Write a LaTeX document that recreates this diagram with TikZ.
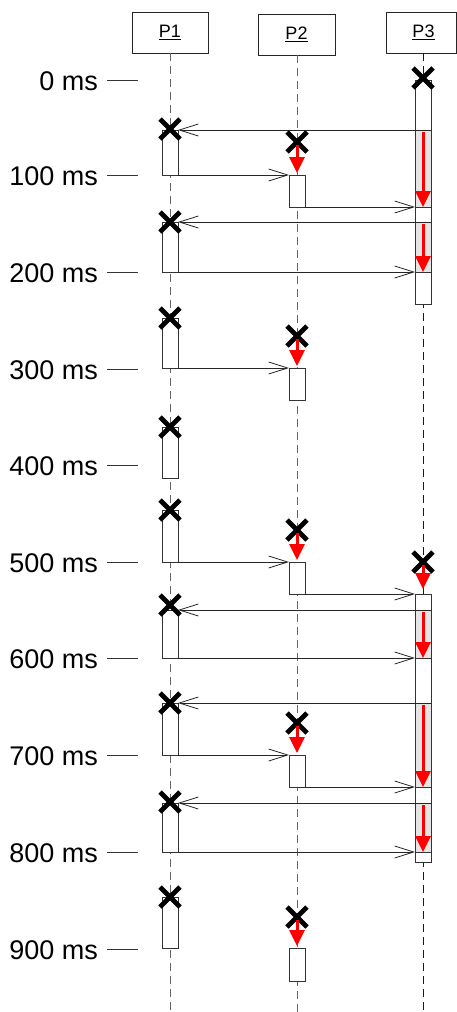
\documentclass[tikz,border=0pt]{standalone}
\usepackage{fontspec}
\setmainfont{Liberation Sans}
\usetikzlibrary{arrows.meta,shapes.misc}
\begin{document}
\begin{tikzpicture}[x=1pt,y=-1pt,
  head/.style={draw=black!85, line width=0.9pt, minimum width=76pt, minimum height=41pt,
    inner sep=0pt, outer sep=0pt, font=\fontsize{18}{20}\selectfont},
  life/.style={draw=black!60, line width=0.9pt, dash pattern=on 8pt off 5pt},
  act/.style={draw=black!80, fill=white, line width=0.9pt, minimum width=16pt,
    inner sep=0pt, outer sep=0pt, anchor=north},
  busy/.style={act, fill=black!10},
  msg/.style={draw=black!85, line width=0.8pt,
    -{Straight Barb[length=19pt,width=12pt,line width=0.8pt]}},
  kill/.style={cross out, draw=black, line width=4.7pt, minimum size=20pt,
    inner sep=0pt, outer sep=0pt},
  work/.style={draw=red, line width=3pt, -{Triangle[length=16pt,width=15pt]}},
  tickline/.style={draw=black!80, line width=0.8pt},
  tlabel/.style={font=\fontsize{27}{31}\selectfont, anchor=base east, inner sep=0pt}
]
\useasboundingbox (0,0) rectangle (457,1012);
\fill[white] (0,0) rectangle (457,1012);

% time axis
\foreach \lab/\y [count=\i] in {0 ms/80,100 ms/175,200 ms/272,300 ms/369,400 ms/465,
    500 ms/562,600 ms/658,700 ms/755,800 ms/852,900 ms/949}{
  \node[tlabel] (t\i) at (98,\y+10.5) {\lab};
  \coordinate (ta\i) at (107,\y);
  \coordinate (tb\i) at (138,\y);
  \draw[tickline] (ta\i) -- (tb\i);
}

% participants
\node[head] (h1) at (170,32.5) {\underline{P1}};
\node[head, minimum width=77pt] (h2) at (296.5,34.5) {\underline{P2}};
\node[head, minimum width=70pt] (h3) at (421,32.5) {\hspace{5pt}\underline{P3}};

% lifelines
\coordinate (e1) at (170,1012);
\coordinate (e2) at (297,1012);
\coordinate (e3) at (423,1012);
\draw[life] (h1.south) -- (e1);
\draw[life] (h2.south -| e2) -- (e2);
\draw[life, draw=black!90] (h3.south -| e3) -- (e3);

% P1 activations
\node[act, minimum height=45pt] (a1) at (170,130) {};
\node[act, minimum height=50pt] (a2) at (170,222) {};
\node[act, minimum height=50pt] (a3) at (170,318) {};
\node[act, minimum height=51pt] (a4) at (170,427) {};
\node[act, minimum height=52pt] (a5) at (170,510) {};
\node[act, minimum height=48pt] (a6) at (170,610) {};
\node[act, minimum height=52pt] (a7) at (170,703) {};
\node[act, minimum height=49pt] (a8) at (170,803) {};
\node[act, minimum height=51pt] (a9) at (170,897) {};

% P2 activations
\node[act, minimum height=32pt] (b1) at (297,175) {};
\node[act, minimum height=32pt] (b2) at (297,368) {};
\node[act, minimum height=32pt] (b3) at (297,562) {};
\node[act, minimum height=32pt] (b4) at (297,755) {};
\node[act, minimum height=33pt] (b5) at (297,948) {};

% P3 activations
\node[act,  minimum height=50pt] (s1)  at (423,80)  {};
\node[busy, minimum height=77pt] (s2)  at (423,130) {};
\node[act,  minimum height=15pt] (s3)  at (423,207) {};
\node[busy, minimum height=50pt] (s4)  at (423,222) {};
\node[act,  minimum height=32pt] (s5)  at (423,272) {};
\node[act,  minimum height=16pt] (s6)  at (423,594) {};
\node[busy, minimum height=48pt] (s7)  at (423,610) {};
\node[act,  minimum height=45pt] (s8)  at (423,658) {};
\node[busy, minimum height=84pt] (s9)  at (423,703) {};
\node[act,  minimum height=16pt] (s10) at (423,787) {};
\node[busy, minimum height=49pt] (s11) at (423,803) {};
\node[act,  minimum height=10pt] (s12) at (423,852) {};

% messages P3 -> P1
\draw[msg] (s2.north east)  -- (a1.north east);
\draw[msg] (s4.north east)  -- (a2.north east);
\draw[msg] (s7.north east)  -- (a6.north east);
\draw[msg] (s9.north east)  -- (a7.north east);
\draw[msg] (s11.north east) -- (a8.north east);
% messages P1 -> P2
\draw[msg] (a1.south east) -- (b1.north west);
\draw[msg] (a3.south east) -- (b2.north west);
\draw[msg] (a5.south east) -- (b3.north west);
\draw[msg] (a7.south east) -- (b4.north west);
% messages P1 -> P3
\draw[msg] (a2.south east) -- (s5.north west);
\draw[msg] (a6.south east) -- (s8.north west);
\draw[msg] (a8.south east) -- (s12.north west);
% messages P2 -> P3
\draw[msg] (b1.south east) -- (s3.north west);
\draw[msg] (b3.south east) -- (s6.north west);
\draw[msg] (b4.south east) -- (s10.north west);

% timer events
\node[kill] (k1) at (170,129) {};
\node[kill] (k2) at (170,222) {};
\node[kill] (k3) at (170,318) {};
\node[kill] (k4) at (170,427) {};
\node[kill] (k5) at (170,510) {};
\node[kill] (k6) at (170,605) {};
\node[kill] (k7) at (170,703) {};
\node[kill] (k8) at (170,802) {};
\node[kill] (k9) at (170,897) {};
\node[kill] (m1) at (297,142) {};
\node[kill] (m2) at (297,336) {};
\node[kill] (m3) at (297,530) {};
\node[kill] (m4) at (297,723) {};
\node[kill] (m5) at (297,917) {};
\node[kill] (n1) at (423,78)  {};
\node[kill] (n2) at (423,562) {};

% execution arrows
\draw[work, shorten <=3pt, shorten >=2pt] (m1.center) -- (b1.north);
\draw[work, shorten <=3pt, shorten >=2pt] (m2.center) -- (b2.north);
\draw[work, shorten <=3pt, shorten >=2pt] (m3.center) -- (b3.north);
\draw[work, shorten <=3pt, shorten >=2pt] (m4.center) -- (b4.north);
\draw[work, shorten <=3pt, shorten >=2pt] (m5.center) -- (b5.north);
\draw[work, shorten <=3pt, shorten >=5pt] (n2.center) -- (s6.north);
\draw[work, shorten <=2pt] (s2.north)  -- (s2.south);
\draw[work, shorten <=2pt] (s4.north)  -- (s4.south);
\draw[work, shorten <=2pt] (s7.north)  -- (s7.south);
\draw[work, shorten <=2pt] (s9.north)  -- (s9.south);
\draw[work, shorten <=2pt] (s11.north) -- (s11.south);
\end{tikzpicture}
\end{document}
